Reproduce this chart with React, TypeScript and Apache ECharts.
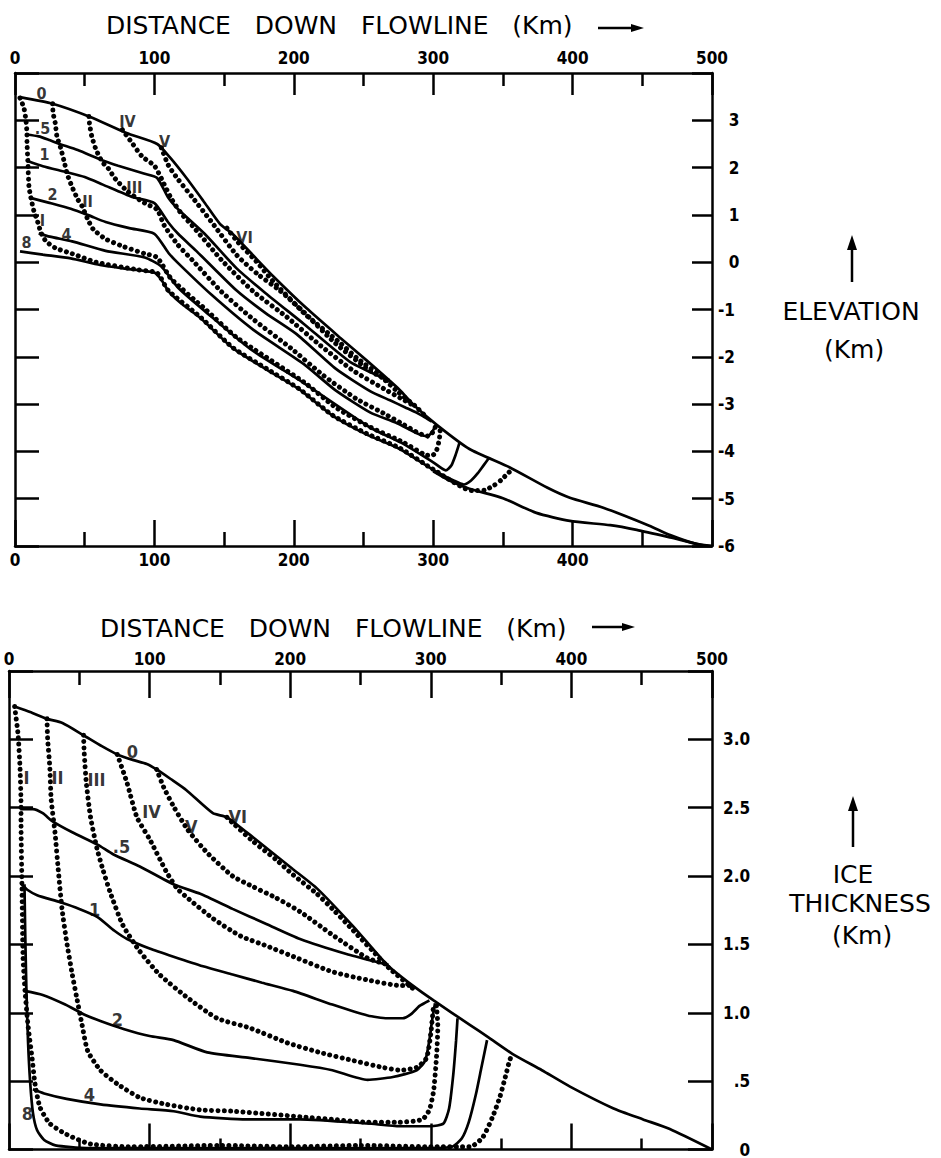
import React, { useEffect, useRef } from 'react';
import * as echarts from 'echarts';

// ---------- Ice thickness (km) vs distance down flowline (km) ----------
const thick0 = [[4,3.24],[15,3.2],[27,3.15],[38,3.12],[53,3.03],[66,2.95],[77,2.89],[88,2.85],[98,2.82],[105,2.78],[115,2.71],[126,2.63],[145,2.46],[155,2.43],[174,2.28],[202,2.05],[219,1.91],[245,1.63],[269,1.35],[287,1.2],[302,1.09],[328,0.91],[341,0.82],[358,0.7],[379,0.58],[399,0.46],[430,0.3],[451,0.22],[470,0.15],[500,0]];
const thickHalf = [[8,2.49],[17,2.49],[24,2.46],[31,2.4],[45,2.32],[63,2.23],[74,2.16],[93,2.07],[117,1.94],[136,1.87],[159,1.76],[183,1.65],[207,1.54],[240,1.43],[262,1.37],[270,1.35]];
const thick1 = [[9,1.94],[13,1.9],[20,1.86],[36,1.81],[50,1.76],[63,1.7],[75,1.6],[84,1.54],[100,1.47],[117,1.41],[138,1.34],[159,1.28],[180,1.22],[202,1.16],[230,1.06],[255,0.98],[269,0.96],[280,0.96],[286,0.99],[292,1.05],[299,1.09]];
const thick2 = [[11,1.16],[24,1.13],[40,1.06],[53,0.99],[65,0.94],[82,0.88],[100,0.83],[117,0.8],[141,0.71],[171,0.67],[207,0.62],[230,0.58],[255,0.51],[273,0.53],[290,0.58],[296,0.65],[299,0.8],[301,0.95],[303,1.07]];
const thick4 = [[17,0.44],[25,0.41],[41,0.37],[65,0.33],[93,0.3],[117,0.28],[136,0.24],[169,0.22],[207,0.22],[255,0.19],[278,0.17],[300,0.17],[309,0.19],[313,0.3],[316,0.55],[318,0.8],[319,0.96]];
const thick8 = [[11,1.94],[11.5,1.6],[12.3,1.2],[13.5,0.8],[15,0.5],[17,0.27],[20,0.14],[25,0.07],[33,0.03],[55,0.01],[150,0.01],[250,0.01],[300,0.01],[315,0.02],[322,0.08],[327,0.2],[332,0.4],[336,0.6],[340,0.8]];
const thickI = [[4,3.24],[6.4,3.04],[7.8,2.8],[8.5,2.56],[8.6,2.32],[9.2,1.93],[10,1.4],[11.4,1.16],[13.5,0.91],[16.4,0.67],[18.5,0.48],[22,0.31],[29,0.19],[41,0.11],[58,0.04],[88,0.02],[150,0.03],[200,0.02],[250,0.03],[300,0.02],[328,0.02],[337,0.09],[344,0.24],[349,0.38],[353,0.53],[356,0.65],[358,0.7]];
const thickII = [[27,3.15],[27.5,3.0],[29,2.8],[30,2.56],[32.7,2.32],[35,2.05],[37.7,1.76],[41,1.52],[45,1.28],[48,1.12],[52,0.91],[56,0.72],[65,0.58],[77,0.48],[93,0.38],[112,0.33],[136,0.29],[159,0.28],[207,0.24],[230,0.22],[255,0.2],[278,0.2],[294,0.22],[299,0.29],[302,0.43],[304,0.67],[305,0.9],[304,1.06]];
const thickIII = [[53,3.03],[53.5,2.9],[55,2.68],[58,2.43],[62.6,2.2],[67,2.04],[72,1.88],[81,1.64],[93,1.45],[107,1.28],[127,1.11],[148,0.96],[171,0.89],[198,0.78],[221,0.71],[245,0.65],[266,0.6],[278,0.58],[290,0.6],[297,0.67],[300,0.85],[302,1.06]];
const thickIV = [[77,2.89],[84,2.68],[91,2.43],[100,2.27],[112,2.03],[119.5,1.91],[127,1.84],[145,1.69],[165,1.56],[183,1.49],[205,1.4],[230,1.3],[255,1.24],[278,1.2],[287,1.2]];
const thickV = [[105,2.78],[110,2.65],[117,2.51],[127,2.34],[141,2.17],[159,2.0],[174,1.92],[190,1.84],[207,1.74],[230,1.57],[255,1.4],[270,1.35]];
const thickVI = [[155,2.43],[160,2.38],[174,2.25],[190,2.12],[202,2.01],[219,1.87],[232,1.74],[245,1.6],[258,1.46],[270,1.33],[287,1.18]];

// ---------- Elevation (km) vs distance down flowline (km) ----------
const elev0 = [[3.6,3.49],[27,3.35],[54,3.07],[80,2.73],[102,2.5],[111,2.22],[123,1.78],[135,1.3],[147,0.81],[156,0.6],[170,0.17],[185,-0.29],[209,-0.97],[233,-1.59],[252,-2.07],[276,-2.7],[286,-3.02],[303,-3.45],[326,-3.95],[355,-4.34],[382,-4.77],[398,-4.98],[422,-5.19],[455,-5.57],[470,-5.77],[489,-5.96],[500,-6.0]];
const elevHalf = [[8,2.7],[17,2.66],[24,2.59],[31,2.51],[45,2.37],[63,2.15],[74,2.04],[93,1.87],[102,1.78],[110,1.36],[117,1.12],[136,0.6],[159,-0.13],[180,-0.66],[207,-1.3],[240,-2.1],[262,-2.42],[270,-2.54]];
const elev1 = [[9,2.14],[20,2.03],[36,1.91],[50,1.8],[63,1.64],[84,1.38],[100,1.25],[110,0.84],[117,0.6],[130,0.24],[159,-0.6],[180,-1.08],[202,-1.52],[230,-2.25],[255,-2.73],[269,-2.92],[280,-3.07],[288,-3.18],[294,-3.28],[299,-3.37]];
const elev2 = [[11,1.36],[24,1.26],[40,1.13],[53,0.99],[65,0.85],[82,0.72],[100,0.6],[110,0.2],[117,-0.02],[141,-0.69],[171,-1.43],[207,-2.15],[230,-2.71],[255,-3.18],[273,-3.39],[290,-3.64],[296,-3.68],[299,-3.6],[301,-3.5],[303,-3.44]];
const elev4 = [[17,0.61],[25,0.54],[41,0.44],[65,0.24],[93,0.1],[105,-0.09],[117,-0.54],[136,-1.03],[169,-1.84],[207,-2.55],[255,-3.5],[278,-3.83],[300,-4.23],[309,-4.4],[313,-4.3],[316,-4.08],[318,-3.9],[319,-3.8]];
const elev8 = [[3.6,0.23],[20,0.16],[40,0.08],[61,-0.06],[80,-0.14],[100,-0.22],[105,-0.37],[110,-0.61],[120,-0.89],[133,-1.18],[156,-1.81],[181,-2.28],[204,-2.69],[228,-3.25],[252,-3.64],[276,-3.95],[300,-4.39],[315,-4.62],[322,-4.7],[327,-4.62],[332,-4.46],[336,-4.3],[340,-4.14]];
const bedTail = [[300,-4.42],[312,-4.62],[326,-4.79],[350,-4.99],[374,-5.3],[398,-5.47],[427,-5.56],[446,-5.66],[470,-5.82],[493,-5.98],[500,-6.0]];
const elevI = [[3.6,3.47],[6.4,3.26],[7.8,3.01],[8.5,2.77],[8.6,2.53],[9.2,2.14],[10,1.6],[11.4,1.36],[13.5,1.09],[16.4,0.84],[18.5,0.64],[22,0.45],[29,0.3],[41,0.18],[58,0.0],[88,-0.16],[102,-0.23],[110,-0.6],[133,-1.16],[156,-1.8],[181,-2.26],[204,-2.68],[228,-3.24],[252,-3.62],[276,-3.93],[300,-4.38],[328,-4.83],[337,-4.82],[344,-4.71],[349,-4.6],[353,-4.48],[356,-4.4],[358,-4.36]];
const elevII = [[27,3.35],[27.3,3.16],[29,2.92],[30,2.67],[32.7,2.42],[35,2.16],[37.7,1.84],[41,1.59],[45,1.33],[48,1.19],[52,0.92],[56,0.7],[65,0.49],[77,0.34],[93,0.18],[102,0.1],[112,-0.35],[136,-0.98],[159,-1.59],[207,-2.53],[230,-3.07],[255,-3.49],[278,-3.8],[294,-4.07],[299,-4.09],[302,-4.01],[304,-3.8],[305,-3.58],[304,-3.46]];
const elevIII = [[53,3.08],[53.5,2.92],[55,2.67],[58,2.39],[62.6,2.12],[67,1.98],[72,1.76],[81,1.49],[93,1.25],[102,1.11],[107,0.78],[117,0.36],[127,0.05],[148,-0.62],[171,-1.21],[198,-1.82],[221,-2.39],[245,-2.89],[266,-3.22],[278,-3.42],[290,-3.62],[297,-3.68],[300,-3.58],[302,-3.45]];
const elevIV = [[77,2.8],[84,2.52],[91,2.24],[100,2.04],[105,1.77],[112,1.35],[119.5,1.02],[127,0.78],[148,0.05],[171,-0.62],[195,-1.16],[219,-1.76],[243,-2.3],[266,-2.7],[278,-2.9],[286,-3.03]];
const elevV = [[105,2.42],[110,2.05],[117,1.75],[127,1.38],[141,0.85],[159,0.15],[174,-0.25],[190,-0.6],[207,-1.05],[230,-1.72],[255,-2.3],[270,-2.54]];
const elevVI = [[152,0.72],[160,0.42],[173,0.02],[185,-0.4],[209,-1.12],[233,-1.7],[245,-2.02],[260,-2.35],[275,-2.75],[287,-3.04],[296,-3.3]];

// Curve tags: [text, distance, value]
const elevTags: [string, number, number][] = [
  ['0', 19.4, 3.56], ['.5', 20.1, 2.81], ['1', 21.5, 2.26], ['2', 27.3, 1.43], ['I', 20.1, 0.88],
  ['4', 37.3, 0.57], ['8', 8.6, 0.41], ['II', 52.4, 1.27], ['III', 86, 1.57], ['IV', 81, 2.96],
  ['V', 107.6, 2.55], ['VI', 165, 0.51],
];
const thickTags: [string, number, number][] = [
  ['0', 88.2, 2.91], ['I', 12.8, 2.72], ['II', 34.9, 2.72], ['III', 62.6, 2.7], ['IV', 101.7, 2.47],
  ['V', 130, 2.36], ['VI', 163, 2.43], ['.5', 80.4, 2.21], ['1', 61.2, 1.75], ['2', 77.5, 0.95],
  ['4', 57.6, 0.4], ['8', 13.5, 0.26],
];

const INK = '#000';
const FIG = '\u2007';   // digit-wide space
const PUNC = '\u2008';  // period-wide space
const tickFont = { fontFamily: '"Liberation Sans Narrow", "DejaVu Sans Condensed", sans-serif', fontWeight: 'bold' as const, fontSize: 17, color: INK };
const axisLine = { show: true, onZero: false, lineStyle: { color: INK, width: 2.5 } };
const tickStyle = { color: INK, width: 2.5 };

function xAxis(grid: number, position: 'top' | 'bottom', major: number, minor: number, label: any) {
  return {
    type: 'value', gridIndex: grid, position, min: 0, max: 500, interval: 100,
    axisLine, splitLine: { show: false },
    axisTick: { show: true, inside: true, length: major, lineStyle: tickStyle },
    minorTick: { show: true, splitNumber: 2, length: minor, lineStyle: tickStyle },
    axisLabel: label,
  };
}

function yAxis(grid: number, position: 'left' | 'right', min: number, max: number, interval: number, tick: number, label: any) {
  return {
    type: 'value', gridIndex: grid, position, min, max, interval,
    axisLine, splitLine: { show: false },
    axisTick: { show: true, inside: true, length: tick, lineStyle: tickStyle },
    axisLabel: label,
  };
}

function solid(data: number[][], xi: number, yi: number) {
  return {
    type: 'line', xAxisIndex: xi, yAxisIndex: yi, data, symbol: 'none', showSymbol: false,
    smooth: 0.2, silent: true, lineStyle: { color: INK, width: 2.7 },
  };
}

function dotted(data: number[][], xi: number, yi: number) {
  return {
    type: 'line', xAxisIndex: xi, yAxisIndex: yi, data, symbol: 'none', showSymbol: false,
    smooth: 0.2, silent: true, lineStyle: { color: INK, width: 5, type: [0.01, 6.3], cap: 'round' },
  };
}

function tags(list: [string, number, number][], xi: number, yi: number, size: number) {
  return {
    type: 'scatter', xAxisIndex: xi, yAxisIndex: yi, symbolSize: 1, silent: true, z: 5,
    itemStyle: { color: 'rgba(0,0,0,0)' },
    data: list.map(([t, x, y]) => ({ name: t, value: [x, y] })),
    label: {
      show: true, position: [0, 0], align: 'center', verticalAlign: 'middle', formatter: '{b}',
      ...tickFont, fontSize: size, color: INK, textBorderWidth: 0,
    },
  };
}

const titleFont = '"DejaVu Sans", sans-serif';
const TITLE = 'DISTANCE   DOWN   FLOWLINE   (Km)';

function text(str: string, x: number, y: number, align: string) {
  return {
    type: 'text', x, y, silent: true,
    style: { text: str, fontFamily: titleFont, fontSize: 25, fill: INK, textAlign: align, textVerticalAlign: 'middle', align, verticalAlign: 'middle' },
  };
}

const elevLabel = (v: number) => (v === 4 ? '' : v < 0 ? String(v) : FIG + v);
const thickLabel = (v: number) =>
  v === 3.5 ? '' : v === 0 ? FIG + PUNC + '0' : v === 0.5 ? FIG + '.5' : v.toFixed(1);

const option = {
  animation: false,
  backgroundColor: '#fff',
  grid: [
    { left: 15, top: 73, width: 697, height: 473 },
    { left: 9, top: 671, width: 703, height: 482 },
  ],
  xAxis: [
    xAxis(0, 'top', 22, 13, { ...tickFont, margin: 7 }),
    xAxis(0, 'bottom', 26, 14, { ...tickFont, margin: 5, formatter: (v: number) => (v === 500 ? '' : String(v)) }),
    xAxis(1, 'top', 27, 14, { ...tickFont, margin: 4 }),
    xAxis(1, 'bottom', 26, 11, { show: false }),
  ],
  yAxis: [
    yAxis(0, 'right', -6, 4, 1, 20, { ...tickFont, align: 'left', margin: 6, formatter: elevLabel }),
    yAxis(0, 'left', -6, 4, 1, 24, { show: false }),
    yAxis(1, 'right', 0, 3.5, 0.5, 24, { ...tickFont, align: 'left', margin: 11, formatter: thickLabel }),
    yAxis(1, 'left', 0, 3.5, 0.5, 24, { show: false }),
  ],
  series: [
    // elevation panel
    solid(elev0, 0, 0), solid(elevHalf, 0, 0), solid(elev1, 0, 0), solid(elev2, 0, 0),
    solid(elev4, 0, 0), solid(elev8, 0, 0), solid(bedTail, 0, 0),
    dotted(elevI, 0, 0), dotted(elevII, 0, 0), dotted(elevIII, 0, 0),
    dotted(elevIV, 0, 0), dotted(elevV, 0, 0), dotted(elevVI, 0, 0),
    tags(elevTags, 0, 0, 16),
    // thickness panel
    solid(thick0, 2, 2), solid(thickHalf, 2, 2), solid(thick1, 2, 2), solid(thick2, 2, 2),
    solid(thick4, 2, 2), solid(thick8, 2, 2),
    dotted(thickI, 2, 2), dotted(thickII, 2, 2), dotted(thickIII, 2, 2),
    dotted(thickIV, 2, 2), dotted(thickV, 2, 2), dotted(thickVI, 2, 2),
    tags(thickTags, 2, 2, 18),
  ],
  graphic: [
    text(TITLE, 106, 25, 'left'),
    { type: 'line', silent: true, shape: { x1: 598, y1: 28, x2: 634, y2: 28 }, style: { stroke: INK, lineWidth: 2.5 } },
    { type: 'polygon', silent: true, shape: { points: [[631, 24], [644, 28], [631, 32]] }, style: { fill: INK } },
    text(TITLE, 100, 628, 'left'),
    { type: 'line', silent: true, shape: { x1: 592, y1: 627, x2: 625, y2: 627 }, style: { stroke: INK, lineWidth: 2.5 } },
    { type: 'polygon', silent: true, shape: { points: [[622, 623], [635, 627], [622, 631]] }, style: { fill: INK } },
    // elevation axis title
    { type: 'line', silent: true, shape: { x1: 852, y1: 282, x2: 852, y2: 246 }, style: { stroke: INK, lineWidth: 2.5 } },
    { type: 'polygon', silent: true, shape: { points: [[847, 250], [852, 235], [857, 250]] }, style: { fill: INK } },
    text('ELEVATION', 851, 311, 'center'),
    text('(Km)', 854, 349, 'center'),
    // thickness axis title
    { type: 'line', silent: true, shape: { x1: 853, y1: 847, x2: 853, y2: 808 }, style: { stroke: INK, lineWidth: 2.5 } },
    { type: 'polygon', silent: true, shape: { points: [[848, 811], [853, 796], [858, 811]] }, style: { fill: INK } },
    text('ICE', 853, 874, 'center'),
    text('THICKNESS', 860, 903, 'center'),
    text('(Km)', 862, 935, 'center'),
  ],
};

export default function App() {
  const ref = useRef<HTMLDivElement>(null);
  useEffect(() => {
    if (!ref.current) return;
    const chart = echarts.init(ref.current, null, { renderer: 'svg' });
    chart.setOption(option as any);
    return () => chart.dispose();
  }, []);
  return (
    <div
      ref={ref}
      style={{ position: 'fixed', left: 0, top: 0, width: 941, height: 1158, background: '#fff' }}
    />
  );
}
